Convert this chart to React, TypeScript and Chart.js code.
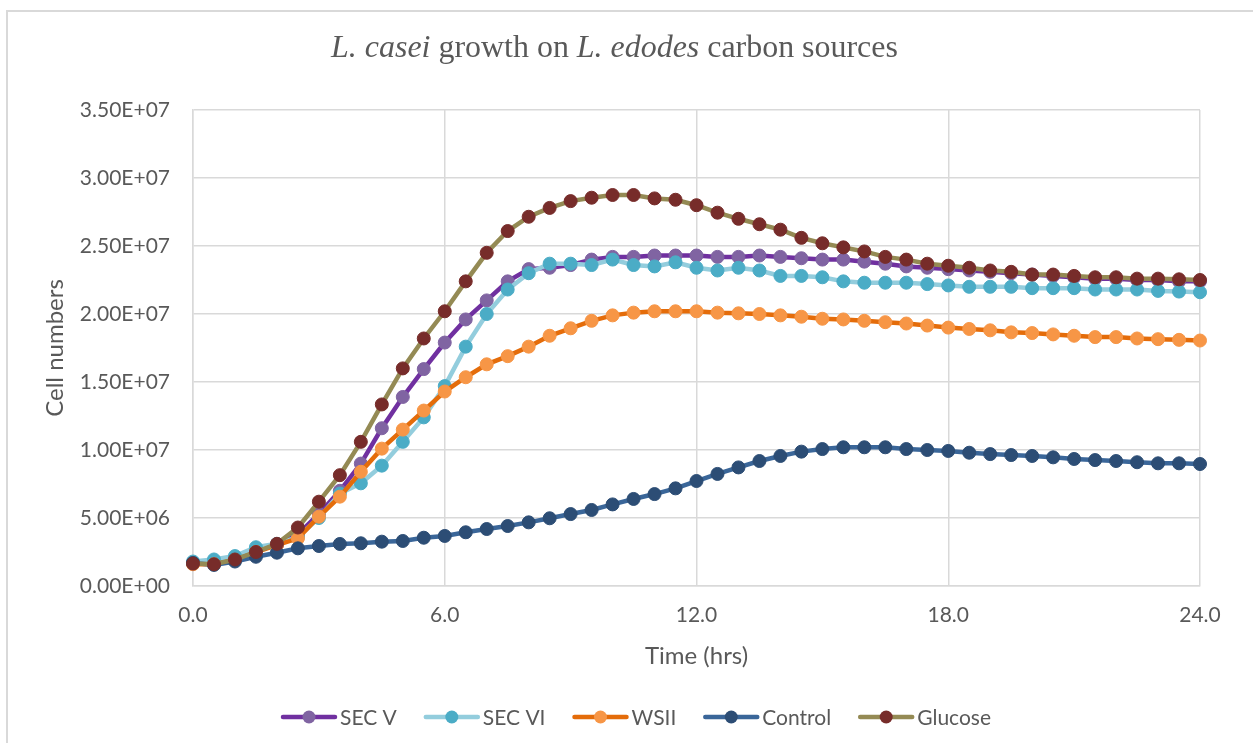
import { useEffect, useRef } from "react";
import { Chart, registerables } from "chart.js";

Chart.register(...registerables);

// Time points (hrs)
const timeHrs = [
  0, 0.5, 1, 1.5, 2, 2.5, 3, 3.5, 4, 4.5, 5, 5.5, 6, 6.5, 7, 7.5, 8, 8.5, 9, 9.5,
  10, 10.5, 11, 11.5, 12, 12.5, 13, 13.5, 14, 14.5, 15, 15.5, 16, 16.5, 17, 17.5,
  18, 18.5, 19, 19.5, 20, 20.5, 21, 21.5, 22, 22.5, 23, 23.5, 24,
];

// Cell numbers, in millions
const secV = [
  1.7, 1.8, 2.0, 2.6, 3.0, 3.8, 5.3, 7.0, 9.0, 11.6, 13.9, 15.95, 17.9, 19.6, 21.0, 22.4,
  23.3, 23.4, 23.6, 24.0, 24.2, 24.2, 24.3, 24.3, 24.3, 24.2, 24.2, 24.3, 24.2, 24.1,
  24.0, 24.0, 23.85, 23.7, 23.5, 23.4, 23.3, 23.2, 23.1, 23.0, 22.9, 22.8, 22.7, 22.6,
  22.6, 22.5, 22.5, 22.4, 22.4,
];
const secVI = [
  1.8, 1.95, 2.2, 2.85, 3.1, 3.6, 5.0, 6.8, 7.55, 8.85, 10.6, 12.4, 14.7, 17.6, 20.0,
  21.8, 23.0, 23.7, 23.7, 23.6, 24.0, 23.6, 23.5, 23.8, 23.4, 23.2, 23.4, 23.2, 22.8,
  22.8, 22.7, 22.4, 22.3, 22.3, 22.3, 22.2, 22.1, 22.0, 22.0, 22.0, 21.9, 21.9, 21.9,
  21.8, 21.8, 21.8, 21.7, 21.65, 21.6,
];
const wsii = [
  1.6, 1.6, 1.9, 2.5, 3.0, 3.5, 5.1, 6.57, 8.4, 10.1, 11.5, 12.9, 14.3, 15.35, 16.3,
  16.9, 17.6, 18.4, 18.95, 19.5, 19.9, 20.1, 20.2, 20.2, 20.2, 20.1, 20.05, 20.0, 19.9,
  19.8, 19.65, 19.6, 19.5, 19.4, 19.3, 19.15, 19.0, 18.9, 18.8, 18.65, 18.6, 18.5,
  18.4, 18.3, 18.3, 18.2, 18.15, 18.1, 18.05,
];
const control = [
  1.7, 1.55, 1.8, 2.15, 2.45, 2.77, 2.94, 3.09, 3.14, 3.26, 3.31, 3.55, 3.68, 3.95,
  4.19, 4.41, 4.68, 4.98, 5.29, 5.59, 6.0, 6.4, 6.76, 7.18, 7.72, 8.24, 8.72, 9.19,
  9.56, 9.88, 10.07, 10.2, 10.2, 10.2, 10.07, 10.0, 9.93, 9.8, 9.7, 9.63, 9.56, 9.46,
  9.34, 9.26, 9.19, 9.1, 9.02, 9.02, 8.97,
];
const glucose = [
  1.65, 1.6, 1.95, 2.5, 3.1, 4.3, 6.2, 8.15, 10.6, 13.35, 16.0, 18.2, 20.2, 22.4, 24.5,
  26.1, 27.15, 27.8, 28.3, 28.55, 28.75, 28.75, 28.5, 28.4, 28.0, 27.45, 27.0, 26.6,
  26.2, 25.6, 25.2, 24.9, 24.6, 24.2, 24.0, 23.7, 23.55, 23.4, 23.2, 23.1, 22.9, 22.9,
  22.8, 22.7, 22.7, 22.6, 22.6, 22.55, 22.5,
];

const seriesNames = ["SEC V", "SEC VI", "WSII", "Control", "Glucose"];
const seriesValues = [secV, secVI, wsii, control, glucose];
const lineColors = ["#7030A0", "#93CDDD", "#E46C0A", "#3A6699", "#948A54"];
const markerColors = ["#8064A2", "#4BACC6", "#F79646", "#2C4D75", "#772C2A"];

const titleParts = [
  { text: "L. casei", italic: true },
  { text: " growth on ", italic: false },
  { text: "L. edodes", italic: true },
  { text: " carbon sources", italic: false },
];
const xAxisTitle = "Time (hrs)";
const yAxisTitle = "Cell numbers";

const TEXT = "#595959";
const GRID = "#d9d9d9";
const SANS = "Lato, 'Open Sans', sans-serif";
const SERIF = "'Liberation Serif', 'DejaVu Serif', serif";

function sci(v: number): string {
  if (v === 0) return "0.00E+00";
  const e = Math.floor(Math.log10(Math.abs(v)) + 1e-9);
  const m = v / Math.pow(10, e);
  return m.toFixed(2) + "E" + (e < 0 ? "-" : "+") + String(Math.abs(e)).padStart(2, "0");
}

const decorPlugin = {
  id: "decor",
  beforeDraw(chart: any) {
    const ctx = chart.ctx;
    ctx.save();
    ctx.fillStyle = "#ffffff";
    ctx.fillRect(0, 0, chart.width, chart.height);
    ctx.strokeStyle = GRID;
    ctx.lineWidth = 2;
    ctx.beginPath();
    ctx.moveTo(7, chart.height);
    ctx.lineTo(7, 11);
    ctx.lineTo(chart.width, 11);
    ctx.stroke();
    ctx.restore();
  },
  afterDraw(chart: any) {
    const ctx = chart.ctx;
    const area = chart.chartArea;
    ctx.save();
    ctx.fillStyle = TEXT;

    // Title with mixed italic
    const targetW = 567;
    const base = 30;
    let w = 0;
    for (const p of titleParts) {
      ctx.font = `${p.italic ? "italic " : ""}${base}px ${SERIF}`;
      w += ctx.measureText(p.text).width;
    }
    const size = (base * targetW) / w;
    let tw = 0;
    for (const p of titleParts) {
      ctx.font = `${p.italic ? "italic " : ""}${size}px ${SERIF}`;
      tw += ctx.measureText(p.text).width;
    }
    let x = 614.5 - tw / 2;
    ctx.textBaseline = "alphabetic";
    ctx.textAlign = "left";
    for (const p of titleParts) {
      ctx.font = `${p.italic ? "italic " : ""}${size}px ${SERIF}`;
      ctx.fillText(p.text, x, 57);
      x += ctx.measureText(p.text).width;
    }

    // Axis titles
    ctx.font = `24px ${SANS}`;
    ctx.textAlign = "center";
    ctx.textBaseline = "alphabetic";
    ctx.fillText(xAxisTitle, (area.left + area.right) / 2, 664);
    ctx.save();
    ctx.translate(63, (area.top + area.bottom) / 2);
    ctx.rotate(-Math.PI / 2);
    ctx.fillText(yAxisTitle, 0, 0);
    ctx.restore();

    // Legend
    ctx.font = `21px ${SANS}`;
    const lineLen = 56;
    const textGap = 3;
    const itemGap = 27;
    const widths = seriesNames.map((n) => ctx.measureText(n).width);
    const total =
      widths.reduce((a, b) => a + b, 0) + seriesNames.length * (lineLen + textGap) + itemGap * (seriesNames.length - 1);
    let lx = 636 - total / 2;
    const ly = 717;
    seriesNames.forEach((name, i) => {
      ctx.strokeStyle = lineColors[i];
      ctx.lineWidth = 4.5;
      ctx.lineCap = "round";
      ctx.beginPath();
      ctx.moveTo(lx + 2, ly);
      ctx.lineTo(lx + lineLen - 2, ly);
      ctx.stroke();
      ctx.fillStyle = markerColors[i];
      ctx.beginPath();
      ctx.arc(lx + lineLen / 2, ly, 6.5, 0, Math.PI * 2);
      ctx.fill();
      ctx.fillStyle = TEXT;
      ctx.textAlign = "left";
      ctx.textBaseline = "middle";
      ctx.fillText(name, lx + lineLen + textGap, ly + 1);
      lx += lineLen + textGap + widths[i] + itemGap;
    });
    ctx.restore();
  },
};

export default function App() {
  const ref = useRef<HTMLCanvasElement | null>(null);

  useEffect(() => {
    if (!ref.current) return;
    const datasets = seriesNames.map((name, i) => ({
      label: name,
      data: timeHrs.map((t, j) => ({ x: t, y: seriesValues[i][j] * 1e6 })),
      borderColor: lineColors[i],
      backgroundColor: markerColors[i],
      borderWidth: 4.5,
      pointRadius: 6.5,
      pointHoverRadius: 6.5,
      pointBackgroundColor: markerColors[i],
      pointBorderColor: markerColors[i],
      pointBorderWidth: 1,
      tension: 0,
      fill: false,
      clip: false as any,
      order: seriesNames.length - 1 - i,
    }));

    const chart = new Chart(ref.current, {
      type: "line",
      data: { datasets },
      options: {
        responsive: false,
        animation: false,
        devicePixelRatio: 1,
        layout: { padding: { top: 110, right: 53, bottom: 0, left: 0 } },
        plugins: {
          legend: { display: false },
          title: { display: false },
          tooltip: { enabled: false },
        },
        scales: {
          x: {
            type: "linear",
            min: 0,
            max: 24,
            afterFit: (s: any) => {
              s.height = 157;
            },
            ticks: {
              stepSize: 6,
              color: TEXT,
              font: { family: SANS, size: 21 },
              padding: 17,
              callback: (v: any) => Number(v).toFixed(1),
            },
            grid: { color: GRID, lineWidth: 1.5, drawTicks: false },
            border: { color: GRID, width: 1.5 },
          },
          y: {
            min: 0,
            max: 35000000,
            afterFit: (s: any) => {
              s.width = 193;
            },
            ticks: {
              stepSize: 5000000,
              color: TEXT,
              font: { family: SANS, size: 21 },
              padding: 23,
              callback: (v: any) => sci(Number(v)),
            },
            grid: { color: GRID, lineWidth: 1.5, drawTicks: false },
            border: { color: GRID, width: 1.5 },
          },
        },
      },
      plugins: [decorPlugin],
    });
    return () => chart.destroy();
  }, []);

  return (
    <div style={{ position: "absolute", left: 0, top: 0, width: 1253, height: 743, background: "#fff" }}>
      <canvas ref={ref} width={1253} height={743} style={{ display: "block" }} />
    </div>
  );
}
